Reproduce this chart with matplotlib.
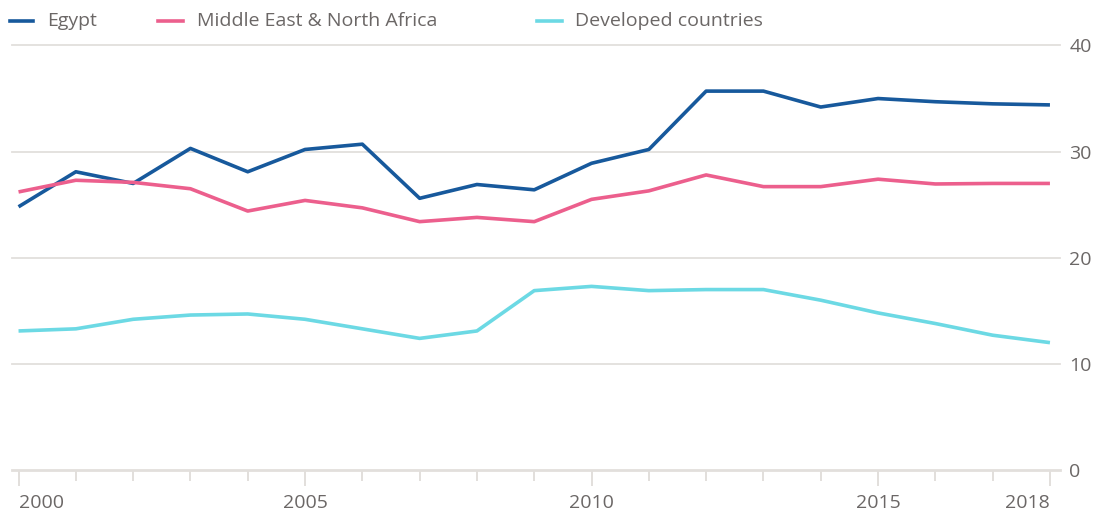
import matplotlib
matplotlib.use("Agg")
import matplotlib.pyplot as plt
from matplotlib.lines import Line2D
from matplotlib.ticker import FixedLocator

years = list(range(2000, 2019))
egypt = [24.8, 28.1, 27.0, 30.3, 28.1, 30.2, 30.7, 25.6, 26.9, 26.4,
         28.9, 30.2, 35.7, 35.7, 34.2, 35.0, 34.7, 34.5, 34.4]
mena = [26.2, 27.3, 27.1, 26.5, 24.4, 25.4, 24.7, 23.4, 23.8, 23.4,
        25.5, 26.3, 27.8, 26.7, 26.7, 27.4, 26.95, 27.0, 27.0]
developed = [13.1, 13.3, 14.2, 14.6, 14.7, 14.2, 13.3, 12.4, 13.1, 16.9,
             17.3, 16.9, 17.0, 17.0, 16.0, 14.8, 13.8, 12.7, 12.0]

series_names = ["Egypt", "Middle East & North Africa", "Developed countries"]
colors = ["#17599c", "#ec5f8d", "#6cd9e4"]
xtick_years = [2000, 2005, 2010, 2015, 2018]
ytick_vals = [0, 10, 20, 30, 40]

plt.rcParams['font.family'] = ['Open Sans', 'DejaVu Sans']
text_color = "#6b6766"
grid_color = "#e2dfdc"
fs = 14

fig = plt.figure(figsize=(11.02, 5.15), dpi=100)
ax = fig.add_axes([0.0111, 0.0874, 0.9505, 0.8243])

for vals, c in zip([egypt, mena, developed], colors):
    ax.plot(years, vals, color=c, lw=2.6, solid_joinstyle='round', solid_capstyle='butt', zorder=3)

ax.set_xlim(1999.89, 2018.17)
ax.set_ylim(0, 40)

for s in ax.spines.values():
    s.set_visible(False)

for v in ytick_vals[1:]:
    ax.axhline(v, color=grid_color, lw=1.3, zorder=1, clip_on=False)
ax.axhline(0, color=grid_color, lw=2.0, zorder=1, clip_on=False)

ax.yaxis.tick_right()
ax.set_yticks(ytick_vals)
ax.set_yticklabels([str(v) for v in ytick_vals])
ax.tick_params(axis='y', length=0, pad=7.0, labelsize=fs, labelcolor=text_color)

ax.xaxis.set_major_locator(FixedLocator(xtick_years))
ax.xaxis.set_minor_locator(FixedLocator([y for y in years if y not in xtick_years]))
ax.set_xticklabels([str(y) for y in xtick_years])
ax.tick_params(axis='x', which='major', length=11.5, width=1.4, color=grid_color,
               pad=5.5, labelsize=fs, labelcolor=text_color)
ax.tick_params(axis='x', which='minor', length=8, width=1.4, color=grid_color)
labels = ax.get_xticklabels()
labels[0].set_horizontalalignment('left')
labels[-1].set_horizontalalignment('right')

W, H = 1102, 515
leg_y = 1 - 21 / H
handle_x = [(10, 33), (158, 183), (537, 562)]
text_x = [47, 197, 575]
for (x0, x1), tx, name, c in zip(handle_x, text_x, series_names, colors):
    fig.add_artist(Line2D([x0 / W, x1 / W], [leg_y, leg_y], color=c, lw=2.6,
                          transform=fig.transFigure))
    fig.text(tx / W, leg_y, name, fontsize=fs, color=text_color, va='center', ha='left')

fig.savefig("out.png", dpi=100)
